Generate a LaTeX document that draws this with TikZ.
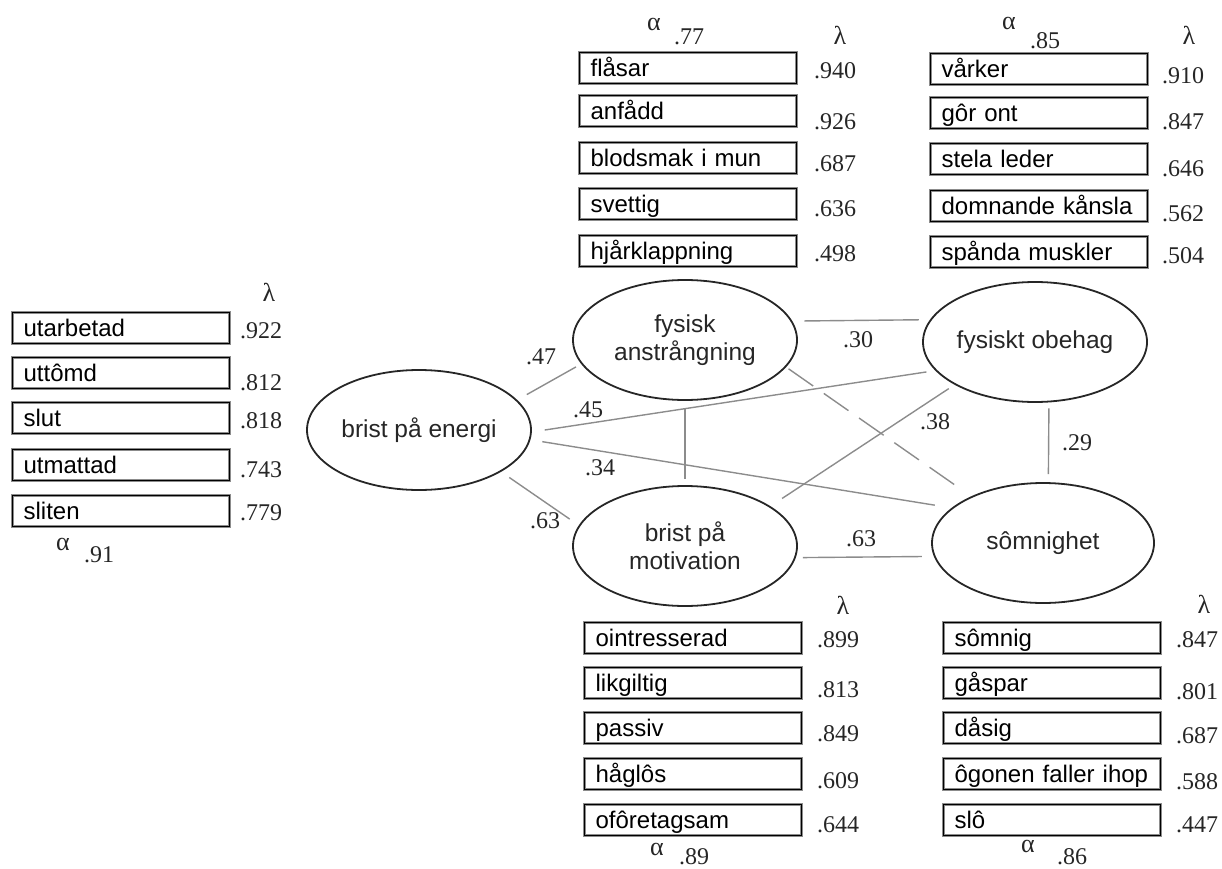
\documentclass[tikz,border=0pt]{standalone}
\usepackage{fontspec}
\setmainfont{Liberation Sans}
\newfontfamily\numfont{Liberation Serif}
\usetikzlibrary{shapes.geometric}

\begin{document}
\begin{tikzpicture}[x=1pt,y=-1pt,
  item/.style={anchor=north west, rectangle,
    preaction={draw=black!45, line width=3pt},
    draw=black, line width=1.2pt,
    text width=195pt, inner xsep=11pt, inner ysep=0pt,
    text height=24pt, text depth=7pt, align=left,
    font=\fontsize{24}{28}\selectfont},
  num/.style={inner sep=0pt, text=black!85, font=\numfont\fontsize{24}{26}\selectfont},
  greek/.style={inner sep=0pt, text=black!85, font=\numfont\fontsize{26}{28}\selectfont},
  latent/.style={ellipse, draw=black!85, line width=1.8pt,
    minimum width=224pt, minimum height=120pt, inner sep=0pt,
    align=center, text=black!85, font=\fontsize{24.5}{28}\selectfont},
  link/.style={draw=black!45, line width=1.4pt},
  dashlink/.style={link, dash pattern=on 30pt off 13pt}
]
\useasboundingbox (0,0) rectangle (1222,869);

% latent factors
\node[latent] (E)  at (419,430) {brist på energi};
\node[latent] (FA) at (685,340) {fysisk\\anstrångning};
\node[latent] (BM) at (685,546) {brist på\\motivation};
\node[latent] (FO) at (1035,342) {fysiskt obehag};
\node[latent, minimum width=222pt] (S) at (1043,543) {sômnighet};

% correlations between the factors
\draw[link, shorten <=11pt, shorten >=6pt]  (E.17) -- (FA.193.5);
\draw[link, shorten <=10pt, shorten >=11pt] (E.-27.8) -- (BM.169.8);
\draw[link, shorten <=13pt, shorten >=9pt]  (E.-1.4) -- (FO.196.2);
\draw[link, shorten <=12pt, shorten >=17pt] (E.-5.6) -- (S.159.7);
\draw[link, shorten <=12pt, shorten >=11pt] (FA.10.7) -- (FO.168);
\draw[link, shorten <=7pt, shorten >=12pt]  (BM.-6.24) -- (S.187.9);
\draw[link, shorten <=8pt, shorten >=6pt]   (FA.south) -- (BM.north);
\draw[dashlink, shorten <=3pt, shorten >=11pt] (FA.-15.2) -- (S.147.3);
\draw[link, shorten <=14pt, shorten >=7pt]  (BM.25.8) -- (FO.208.4);
\draw[link, shorten <=6pt, shorten >=8pt]   (FO.-77.7) -- (S.85.2);

% path coefficients
\node[num] (c47) at (541,357) {.47};
\node[num] (c45) at (588,410) {.45};
\node[num] (c34) at (600,468) {.34};
\node[num] (c63a) at (545,521) {.63};
\node[num] (c30) at (858,340) {.30};
\node[num] (c38) at (935,422) {.38};
\node[num] (c29) at (1077,443) {.29};
\node[num] (c63b) at (861,539) {.63};

% brist på energi: items
\node[item] (e1) at (12,312) {utarbetad};
\node[item] (e2) at (12,357) {uttômd};
\node[item] (e3) at (12,402) {slut};
\node[item] (e4) at (12,449) {utmattad};
\node[item] (e5) at (12,495) {sliten};
\node[greek] (el) at (269,292) {λ};
\node[num] (el1) at (261,331) {.922};
\node[num] (el2) at (261,383) {.812};
\node[num] (el3) at (261,421) {.818};
\node[num] (el4) at (261,470) {.743};
\node[num] (el5) at (261,513) {.779};
\node[greek] (ea) at (63,544) {α};
\node[num] (eav) at (99,555) {.91};

% fysisk anstrångning: items
\node[item] (f1) at (579,52) {flåsar};
\node[item] (f2) at (579,95) {anfådd};
\node[item] (f3) at (579,142) {blodsmak i mun};
\node[item] (f4) at (579,188) {svettig};
\node[item] (f5) at (579,235) {hjårklappning};
\node[greek] (fl) at (840,35) {λ};
\node[num] (fl1) at (835,71) {.940};
\node[num] (fl2) at (835,122) {.926};
\node[num] (fl3) at (835,164) {.687};
\node[num] (fl4) at (835,209) {.636};
\node[num] (fl5) at (835,254) {.498};
\node[greek] (fa) at (654,24) {α};
\node[num] (fav) at (689,37) {.77};

% fysiskt obehag: items
\node[item] (o1) at (930,53) {vårker};
\node[item] (o2) at (930,97) {gôr ont};
\node[item] (o3) at (930,143) {stela leder};
\node[item] (o4) at (930,190) {domnande kånsla};
\node[item] (o5) at (930,236) {spånda muskler};
\node[greek] (ol) at (1189,35) {λ};
\node[num] (ol1) at (1183,76) {.910};
\node[num] (ol2) at (1183,122) {.847};
\node[num] (ol3) at (1183,169) {.646};
\node[num] (ol4) at (1183,214) {.562};
\node[num] (ol5) at (1183,256) {.504};
\node[greek] (oa) at (1009,23) {α};
\node[num] (oav) at (1045,41) {.85};

% brist på motivation: items
\node[item] (m1) at (584,622) {ointresserad};
\node[item] (m2) at (584,667) {likgiltig};
\node[item] (m3) at (584,712) {passiv};
\node[item] (m4) at (584,758) {håglôs};
\node[item] (m5) at (584,804) {ofôretagsam};
\node[greek] (ml) at (843,605) {λ};
\node[num] (ml1) at (838,640) {.899};
\node[num] (ml2) at (838,690) {.813};
\node[num] (ml3) at (838,734) {.849};
\node[num] (ml4) at (838,781) {.609};
\node[num] (ml5) at (838,825) {.644};
\node[greek] (ma) at (657,849) {α};
\node[num] (mav) at (694,857) {.89};

% sômnighet: items
\node[item] (s1) at (943,622) {sômnig};
\node[item] (s2) at (943,667) {gåspar};
\node[item] (s3) at (943,712) {dåsig};
\node[item] (s4) at (943,758) {ôgonen faller ihop};
\node[item] (s5) at (943,804) {slô};
\node[greek] (sl) at (1204,604) {λ};
\node[num] (sl1) at (1197,640) {.847};
\node[num] (sl2) at (1197,692) {.801};
\node[num] (sl3) at (1197,736) {.687};
\node[num] (sl4) at (1197,782) {.588};
\node[num] (sl5) at (1197,825) {.447};
\node[greek] (sa) at (1028,846) {α};
\node[num] (sav) at (1072,857) {.86};
\end{tikzpicture}
\end{document}
